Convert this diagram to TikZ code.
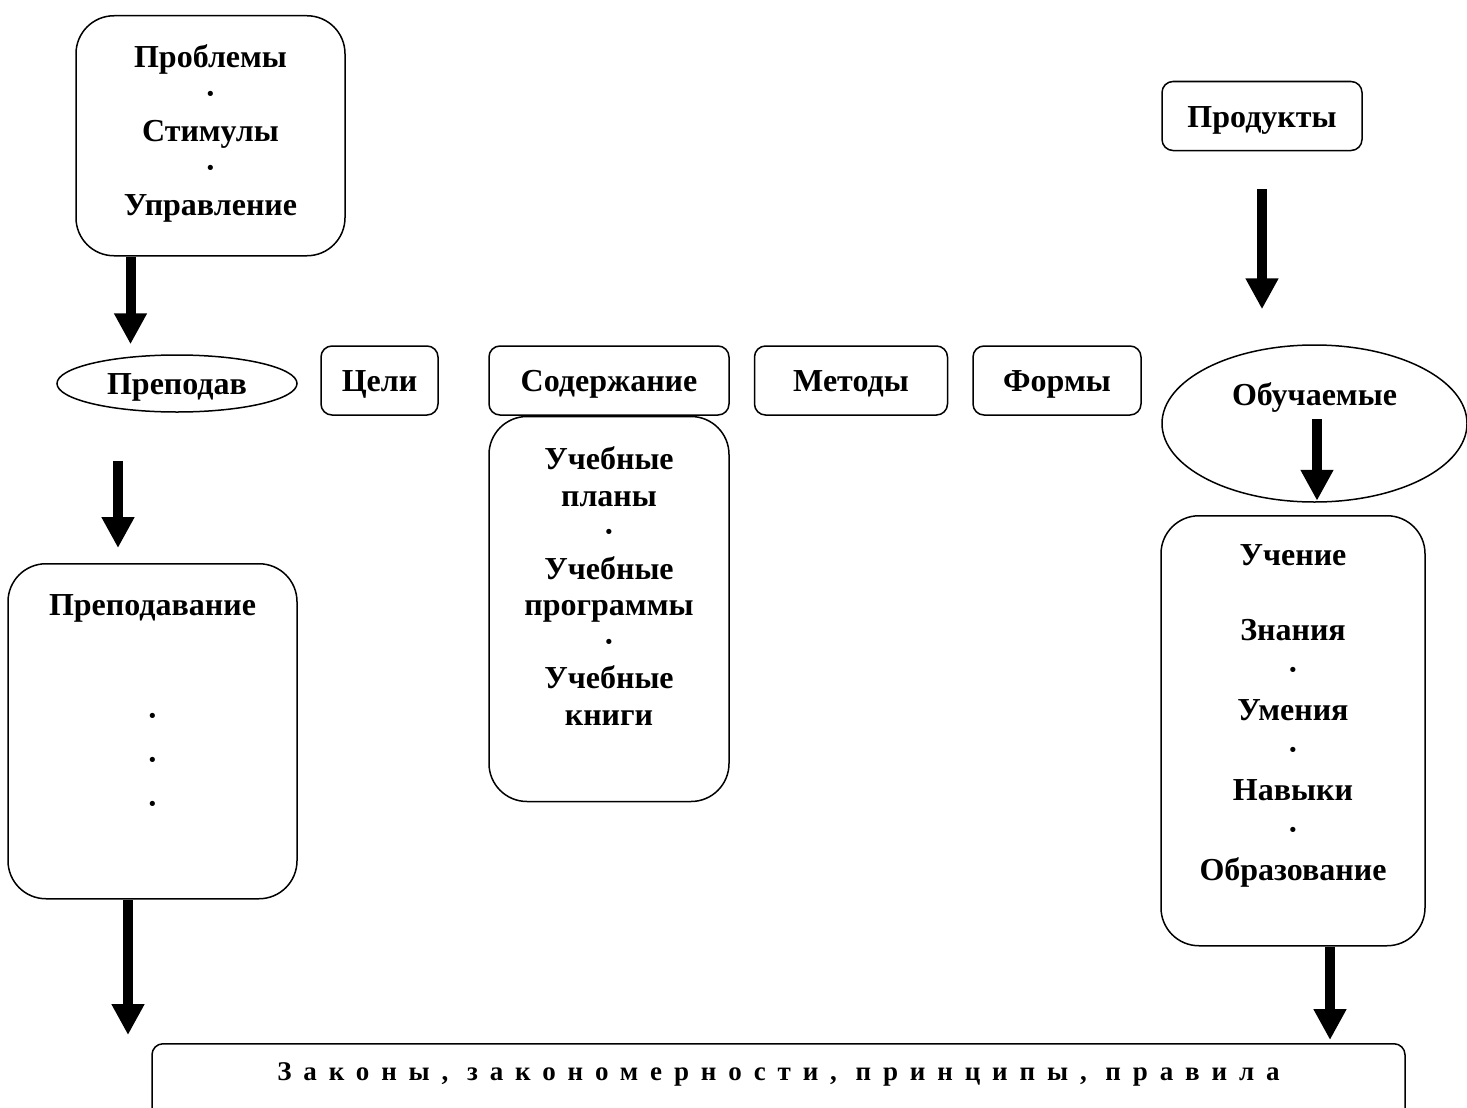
\documentclass[tikz,border=0pt]{standalone}
\usepackage{fontspec}
\setmainfont{Liberation Serif}
\newfontfamily\spacedfont[LetterSpace=44]{Liberation Serif}
\usetikzlibrary{shapes.geometric,arrows.meta,positioning}

\begin{document}
\begin{tikzpicture}[
    x=1pt, y=-1pt,
    node distance=24pt,
    word/.style={font=\fontsize{32}{37}\selectfont\bfseries},
    rowbox/.style={word, draw, line width=1.5pt, rounded corners=11pt, minimum height=69pt, text height=22pt, text depth=0pt, inner sep=0pt},
    tallbox/.style={word, draw, line width=1.5pt, rounded corners=38pt, align=center, anchor=north, inner ysep=0pt},
    oval/.style={word, draw, ellipse, line width=1.5pt, inner sep=0pt, text height=22pt, text depth=0pt},
    bigarrow/.style={-{Triangle[width=31pt,length=31pt]}, line width=10pt}
]
    \useasboundingbox (0,0) rectangle (1467,1108);
    \clip (0,0) rectangle (1467,1108);

    % top row
    \node[tallbox, minimum width=269pt, text height=200pt, text depth=40pt] (probl) at (210.5,15) {Проблемы\\·\\Стимулы\\·\\Управление};
    \node[rowbox, minimum width=200pt] (prod) at (1262,116) {Продукты};

    % middle row
    \node[oval, minimum width=240pt, minimum height=57pt] (prepod) at (177,383.5) {Преподав};
    \node[rowbox, minimum width=117pt] (goals) at (379.5,380.5) {Цели};
    \node[rowbox, minimum width=240pt] (sod) at (609,380.5) {Содержание};
    \node[rowbox, minimum width=193pt, right=of sod] (meth) {Методы};
    \node[rowbox, minimum width=168pt, right=of meth] (forms) {Формы};
    \node[oval, minimum width=305pt, minimum height=157pt,
          label={[word, text height=22pt, text depth=0pt, yshift=29pt]center:Обучаемые}] (obuch) at (1314.5,423.5) {};

    % tall boxes
    \node[tallbox, minimum width=240pt, text height=308.5pt, text depth=76.5pt,
          font=\fontsize{32}{36.5}\selectfont\bfseries, below=0pt of sod] (books)
          {Учебные\\планы\\·\\Учебные\\программы\\·\\Учебные\\книги};
    \node[tallbox, minimum width=289pt, text height=251pt, text depth=84pt,
          font=\fontsize{32}{44}\selectfont\bfseries] (prepbox) at (152.5,563)
          {Преподавание\\[67pt]·\\·\\·};
    \node[tallbox, minimum width=264pt, text height=365pt, text depth=65pt,
          font=\fontsize{32}{40}\selectfont\bfseries] (uchen) at (1293,515)
          {Учение\\[35pt]Знания\\·\\Умения\\·\\Навыки\\·\\Образование};

    % bottom
    \node[draw, line width=1.5pt, rounded corners=11pt, anchor=north, minimum width=1253pt,
          inner ysep=0pt, text height=37pt, text depth=100pt,
          font=\spacedfont\fontsize{27}{30}\selectfont\bfseries] (laws) at (778.5,1043)
          {Законы, закономерности, принципы, правила};

    % arrows
    \draw[bigarrow, shorten >=10pt] ([xshift=-80pt]probl.south) -- ([xshift=-80pt]probl.south |- prepod.north);
    \draw[bigarrow, shorten <=48pt, shorten >=15pt] ([xshift=-59pt]prepod.south) -- ([xshift=-59pt]prepod.south |- prepbox.north);
    \draw[bigarrow, shorten >=8pt] ([xshift=-24.5pt]prepbox.south) -- ([xshift=-24.5pt]prepbox.south |- laws.north);
    \draw[bigarrow, shorten <=38pt, shorten >=35pt] (prod.south) -- (prod.south |- obuch.north);
    \draw[bigarrow] ([xshift=2.5pt,yshift=4.5pt]obuch.center) -- ([xshift=2.5pt,yshift=2pt]obuch.south);
    \draw[bigarrow, shorten >=3pt] ([xshift=37pt]uchen.south) -- ([xshift=37pt]uchen.south |- laws.north);
\end{tikzpicture}
\end{document}
